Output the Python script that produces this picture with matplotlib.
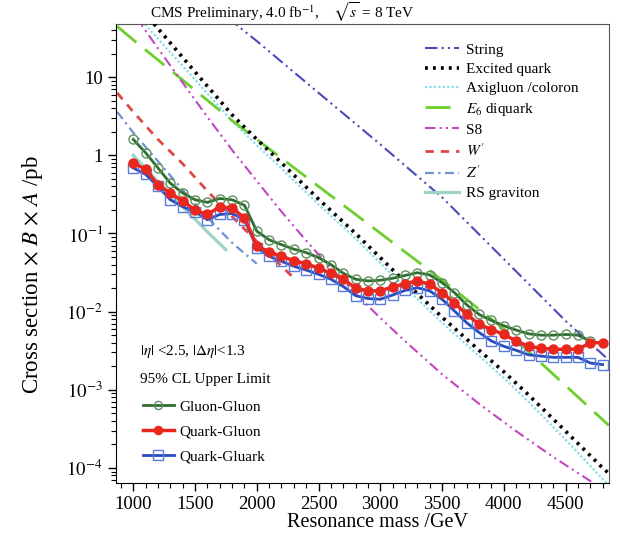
import matplotlib
matplotlib.use("Agg")
import matplotlib.pyplot as plt
import numpy as np
from matplotlib.ticker import FixedLocator, MultipleLocator, LogLocator, FuncFormatter, NullFormatter

plt.rcParams['font.family'] = ['Liberation Serif', 'DejaVu Serif']
plt.rcParams['mathtext.fontset'] = 'stix'

# ---------------- data ----------------
mass_data = list(range(1000, 4900, 100))
gluon_gluon = [1.60, 1.08, 0.69, 0.44, 0.33, 0.27, 0.25, 0.28, 0.27, 0.23,
               0.107, 0.083, 0.072, 0.063, 0.057, 0.049, 0.040, 0.031, 0.026, 0.0247,
               0.0252, 0.0267, 0.029, 0.0315, 0.0295, 0.0235, 0.0175, 0.0122, 0.0092, 0.0077,
               0.0066, 0.0058, 0.0052, 0.0050, 0.0050, 0.0051, 0.0050, 0.0042]
quark_gluon = [0.80, 0.66, 0.42, 0.33, 0.26, 0.20, 0.175, 0.22, 0.21, 0.16,
               0.069, 0.058, 0.051, 0.045, 0.041, 0.036, 0.031, 0.026, 0.020, 0.0184,
               0.0184, 0.0207, 0.0228, 0.0247, 0.0224, 0.0175, 0.0130, 0.0092, 0.0069, 0.0059,
               0.0051, 0.0042, 0.0036, 0.0034, 0.0033, 0.0033, 0.0033, 0.0040, 0.0040]
quark_gluark = [0.69, 0.57, 0.40, 0.27, 0.22, 0.19, 0.15, 0.175, 0.18, 0.15,
                0.066, 0.051, 0.044, 0.038, 0.034, 0.030, 0.026, 0.021, 0.016, 0.0147,
                0.0144, 0.0163, 0.0187, 0.0202, 0.0184, 0.0144, 0.0102, 0.0072, 0.0054, 0.0042,
                0.0036, 0.0032, 0.0028, 0.0027, 0.0026, 0.0026, 0.0026, 0.0022, 0.0021]

string_m = [1500, 1800, 2000, 2500, 3000, 3500, 4000, 4500, 4850]
string_v = [130, 52, 29, 6.3, 1.38, 0.29, 0.047, 7.6e-3, 2.4e-3]

qstar_m = [1000, 1200, 1500, 1800, 2000, 2200, 2500, 2800, 3000, 3200, 3500, 3800, 4000, 4200, 4500, 4800, 4850]
qstar_v = [98, 42, 11.7, 3.3, 1.6, 0.80, 0.275, 0.10, 0.049, 0.024, 8.5e-3, 3.2e-3, 1.7e-3, 8.6e-4, 2.95e-4, 1.0e-4, 8.5e-5]

axi_m = [1000, 1200, 1500, 1800, 2000, 2200, 2500, 2800, 3000, 3200, 3500, 3800, 4000, 4200, 4500, 4800, 4850]
axi_v = [70, 31, 9.3, 2.75, 1.35, 0.68, 0.235, 0.086, 0.042, 0.0205, 7.2e-3, 2.7e-3, 1.42e-3, 7.0e-4, 2.3e-4, 7.2e-5, 6.0e-5]

e6_m = [870, 1000, 1400, 1806, 2000, 2500, 3000, 3500, 4000, 4500, 4850]
e6_v = [44.7, 30, 9.2, 2.74, 1.6, 0.40, 0.101, 0.0254, 6.0e-3, 1.13e-3, 3.5e-4]

s8_m = [1000, 1200, 1400, 1600, 1800, 2000, 2200, 2400, 2600, 2800, 3000, 3200, 3500, 3800, 4100, 4400, 4700, 4850]
s8_v = [66, 23.4, 8.5, 3.1, 1.17, 0.47, 0.19, 0.081, 0.036, 0.017, 8.3e-3, 4.2e-3, 1.58e-3, 6.6e-4, 2.95e-4, 1.38e-4, 6.8e-5, 4.8e-5]

wp_m = [870, 1000, 1200, 1400, 1600, 1800, 2000, 2200, 2300]
wp_v = [6.3, 3.6, 1.6, 0.78, 0.35, 0.165, 0.079, 0.038, 0.027]

zp_m = [870, 1000, 1200, 1400, 1600, 1800, 2000]
zp_v = [3.6, 1.95, 0.84, 0.36, 0.16, 0.076, 0.041]

rs_m = [1000, 1200, 1400, 1600, 1750]
rs_v = [1.0, 0.46, 0.22, 0.105, 0.062]

xticks = [1000, 1500, 2000, 2500, 3000, 3500, 4000, 4500]
yticks = [1e-4, 1e-3, 1e-2, 1e-1, 1, 10]

# ---------------- figure ----------------
fig = plt.figure(figsize=(6.2, 5.44), dpi=100)
ax = fig.add_axes([0.187, 0.112, 0.795, 0.844])
ax.set_yscale('log')
ax.set_xlim(860, 4850)
ax.set_ylim(6.4e-5, 48)

h_string, = ax.plot(string_m, string_v, color='#4a4ab8', lw=1.5, ls=(0, (6, 2, 1, 2, 1, 2)), label='String')
h_qstar, = ax.plot(qstar_m, qstar_v, color='black', lw=2.6, ls=(0, (0.8, 1.4)), label='Excited quark', zorder=3)
h_axi, = ax.plot(axi_m, axi_v, color='#86dcea', lw=1.6, ls=(0, (1, 1)), label='Axigluon /coloron', zorder=2)
h_e6, = ax.plot(e6_m, e6_v, color='#6ccf2e', lw=2.0, ls=(0, (9, 4)), label=r'$E_6$ diquark')
h_s8, = ax.plot(s8_m, s8_v, color='#c444c4', lw=1.5, ls=(0, (5, 2, 1, 2, 1, 2)), label='S8')
h_wp, = ax.plot(wp_m, wp_v, color='#e04848', lw=2.0, ls=(0, (3, 2.5)), label=r"$W\,'$")
h_zp, = ax.plot(zp_m, zp_v, color='#7090d0', lw=1.6, ls=(0, (4, 2, 1, 2)), label=r"$Z\,'$")
h_rs, = ax.plot(rs_m, rs_v, color='#9fd3c6', lw=2.3, ls='-', label='RS graviton')

h_gg, = ax.plot(mass_data[:len(gluon_gluon)], gluon_gluon, color='#2f6f2f', lw=2.0, marker='o',
                ms=6.5, mfc='none', mec='#5f8f5f', mew=1.0, label='Gluon-Gluon', zorder=5)
h_qg, = ax.plot(mass_data[:len(quark_gluon)], quark_gluon, color='#e8271f', lw=2.5, marker='o',
                ms=6.5, mfc='#e8271f', mec='#e8271f', label='Quark-Gluon', zorder=6)
h_qq, = ax.plot(mass_data[:len(quark_gluark)], quark_gluark, color='#2a4bc0', lw=2.0, marker='s',
                ms=7.5, mfc='none', mec='#5a7ad8', mew=1.0, label='Quark-Gluark', zorder=4)

# ticks
ax.xaxis.set_major_locator(FixedLocator(xticks))
ax.xaxis.set_minor_locator(MultipleLocator(100))
ax.yaxis.set_major_locator(FixedLocator(yticks))
ax.yaxis.set_minor_locator(LogLocator(base=10, subs=np.arange(2, 10), numticks=20))
ax.yaxis.set_minor_formatter(NullFormatter())

def yfmt(v, pos):
    if v >= 10:
        return '10'
    if abs(v - 1) < 1e-9:
        return '1'
    k = int(round(np.log10(v)))
    return r'$10^{%d}$' % k

ax.yaxis.set_major_formatter(FuncFormatter(yfmt))
ax.tick_params(axis='both', which='major', direction='out', length=6, width=1, labelsize=13.5,
               top=False, right=False)
ax.tick_params(axis='both', which='minor', direction='out', length=3.5, width=0.8, top=False, right=False)
for s in ['top', 'right']:
    ax.spines[s].set_color('#555555')

ax.set_xlabel('Resonance mass /GeV', fontsize=14.5, labelpad=2)
ax.xaxis.set_label_coords(0.53, -0.065)
ax.set_ylabel(r'Cross section $\times$ $B$ $\times$ $A$ /pb', fontsize=16.5)
ax.yaxis.set_label_coords(-0.143, 0.455)

fig.text(150 / 620, 1 - 12 / 544, r'CMS Preliminary, 4.0 fb$^{-1}$,    $\sqrt{s}$ = 8 TeV',
         fontsize=11, va='center', ha='left')

leg1 = ax.legend(handles=[h_string, h_qstar, h_axi, h_e6, h_s8, h_wp, h_zp, h_rs],
                 loc='upper left', bbox_to_anchor=(425 / 620, 1 - 43 / 544), bbox_transform=fig.transFigure,
                 frameon=False, fontsize=11, handlelength=2.2, handletextpad=0.5,
                 labelspacing=0.36, borderpad=0, borderaxespad=0)
ax.add_artist(leg1)

fig.text(140 / 620, 1 - 352 / 544, r'$|\eta|$ <2.5, $|\mathit{\Delta}\eta|$<1.3', fontsize=11,
         va='center', ha='left')
fig.text(140 / 620, 1 - 380 / 544, '95% CL Upper Limit', fontsize=11, va='center', ha='left')
leg2 = ax.legend(handles=[h_gg, h_qg, h_qq], loc='upper left',
                 bbox_to_anchor=(143 / 620, 1 - 400 / 544), bbox_transform=fig.transFigure,
                 frameon=False, fontsize=11, handlelength=2.0, handletextpad=0.4,
                 labelspacing=0.72, borderpad=0, borderaxespad=0, markerscale=0.9)

fig.savefig('out.png', dpi=100)
